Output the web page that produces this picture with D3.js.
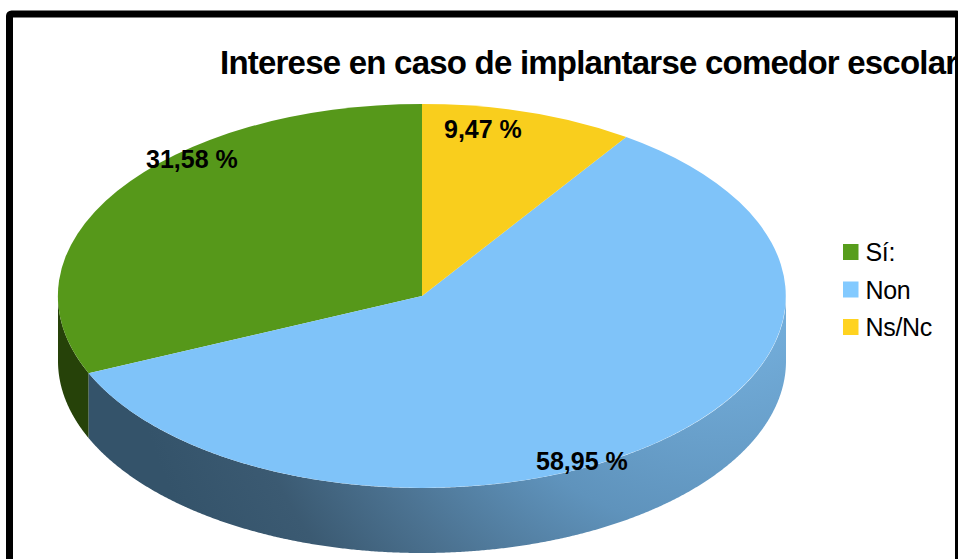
<!DOCTYPE html>
<html>
<head>
<meta charset="utf-8">
<script src="https://cdn.jsdelivr.net/npm/d3@7"></script>
<style>
  html, body { margin: 0; padding: 0; background: #fff; overflow: hidden; }
  text { font-family: "Liberation Sans", Arial, sans-serif; fill: #000; }
</style>
</head>
<body>
<div id="plot"></div>
<script>
const categories = ["Sí:", "Non", "Ns/Nc"];
const values = [31.58, 58.95, 9.47];
const topColors = ["#56981a", "#7fc3f9", "#f9ce1d"];
const legendColors = ["#579d1c", "#83caff", "#ffd320"];
const chartTitle = "Interese en caso de implantarse comedor escolar";

const width = 958, height = 559;
const cx = 422, cy = 296, rx = 364, ry = 192, depth = 65;

const svg = d3.select("#plot").append("svg")
  .attr("width", width)
  .attr("height", height)
  .style("display", "block");

const defs = svg.append("defs");

// side wall shading: light source sits up to the right
const wallStops = [
  [100 / 600, "#72acd9"],
  [280 / 600, "#5f93bc"],
  [400 / 600, "#4c7392"],
  [500 / 600, "#3b5a72"],
  [1, "#34536a"]
];
defs.append("radialGradient")
  .attr("id", "wallBlue")
  .attr("gradientUnits", "userSpaceOnUse")
  .attr("cx", 720).attr("cy", 250).attr("r", 600)
  .selectAll("stop")
  .data(wallStops)
  .join("stop")
  .attr("offset", d => d[0])
  .attr("stop-color", d => d[1]);

const wallFills = ["#264209", "url(#wallBlue)", "#7a6410"];

// Sí starts at 12 o'clock and the slices run counterclockwise
const pie = d3.pie().sort(null).startAngle(0).endAngle(-2 * Math.PI);
const slices = pie(values);

// unit arc, squashed into an ellipse by the transform
const arc = d3.arc().innerRadius(0).outerRadius(1);

const wall = d3.area()
  .x(a => cx + rx * Math.sin(a))
  .y0(a => cy - ry * Math.cos(a))
  .y1(a => cy - ry * Math.cos(a) + depth);

const pi = Math.PI;
svg.append("g").selectAll("path")
  .data(slices)
  .join("path")
  .attr("d", d => {
    // only the front half of the rim shows
    const a0 = Math.max(d.endAngle + 2 * pi, pi / 2);
    const a1 = Math.min(d.startAngle + 2 * pi, 3 * pi / 2);
    if (a1 <= a0) return null;
    const angles = d3.range(a0, a1, 0.005).concat([a1]);
    return wall(angles);
  })
  .attr("fill", (d, i) => wallFills[i]);

svg.append("g")
  .attr("transform", `translate(${cx},${cy}) scale(${rx},${ry})`)
  .selectAll("path")
  .data(slices)
  .join("path")
  .attr("d", arc)
  .attr("fill", (d, i) => topColors[i]);

// data labels
const labelPos = [[146, 168], [536, 470], [444, 138]];
svg.append("g").selectAll("text")
  .data(values)
  .join("text")
  .attr("x", (d, i) => labelPos[i][0])
  .attr("y", (d, i) => labelPos[i][1])
  .attr("font-size", 25)
  .attr("font-weight", "bold")
  .text(d => d3.format(".2f")(d).replace(".", ",") + " %");

// squeezed a bit so the last letter just reaches the frame
svg.append("text")
  .attr("x", 220)
  .attr("y", 74)
  .attr("font-size", 33)
  .attr("font-weight", "bold")
  .attr("letter-spacing", -0.78)
  .text(chartTitle);

// legend
const legend = svg.append("g").selectAll("g")
  .data(categories)
  .join("g")
  .attr("transform", (d, i) => `translate(843,${244 + i * 37.5})`);
legend.append("rect")
  .attr("width", 15.5)
  .attr("height", 16)
  .attr("fill", (d, i) => legendColors[i]);
legend.append("text")
  .attr("x", 22.5)
  .attr("y", 17)
  .attr("font-size", 25)
  .attr("letter-spacing", -0.3)
  .text(d => d);

// frame goes last
svg.append("rect")
  .attr("x", 9.5)
  .attr("y", 14)
  .attr("width", 949)
  .attr("height", 600)
  .attr("rx", 2)
  .attr("fill", "none")
  .attr("stroke", "#000")
  .attr("stroke-width", 7);
</script>
</body>
</html>
